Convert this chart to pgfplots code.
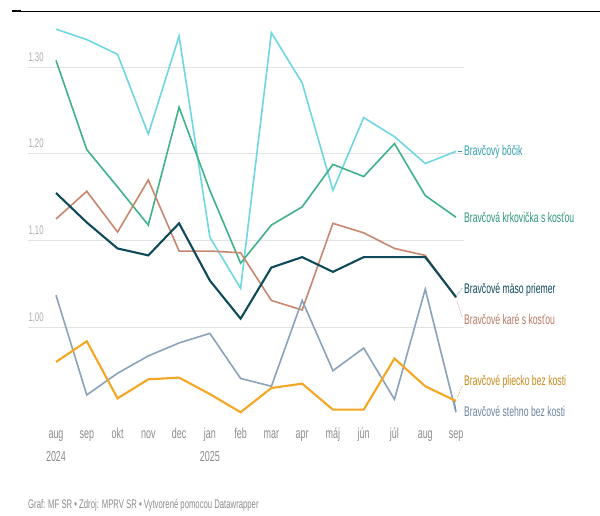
\documentclass[border=0pt]{standalone}
\usepackage{pgfplots}
\pgfplotsset{compat=1.18}
\usepackage{fontspec}
\setmainfont{Liberation Sans}[FakeStretch=0.62]
\definecolor{bocik}{HTML}{6FD6E3}
\definecolor{bocikL}{HTML}{2E9FB0}
\definecolor{krk}{HTML}{3FB287}
\definecolor{krkL}{HTML}{2E9A72}
\definecolor{prie}{HTML}{0E4A5A}
\definecolor{kare}{HTML}{C8876E}
\definecolor{kareL}{HTML}{B97A62}
\definecolor{plie}{HTML}{F5A623}
\definecolor{plieL}{HTML}{C98A1A}
\definecolor{steh}{HTML}{8AA2BB}
\definecolor{stehL}{HTML}{6D86A0}
\definecolor{tickgray}{HTML}{8C8C8C}
\definecolor{gridgray}{HTML}{E3E3E3}
\begin{document}
\begin{tikzpicture}[x=1bp,y=1bp]
\useasboundingbox (0,0) rectangle (600,516);
\fill[white] (0,0) rectangle (600,516);
\draw[black, line width=0.9bp] (12,505) -- (600,505);
\draw[black, line width=2.2bp] (12,505) -- (21,505);
\begin{axis}[
  at={(28bp,102bp)}, anchor=south west,
  scale only axis, width=436bp, height=390bp,
  xmin=-0.91, xmax=13.26, ymin=0.90, ymax=1.35,
  axis line style={draw=none}, tick style={draw=none}, clip=false,
  ytick={1.0,1.1,1.2,1.3},
  ymajorgrids, grid style={gridgray, line width=1bp},
  xtick={0,...,13},
  xticklabels={aug,sep,okt,nov,dec,jan,feb,mar,apr,máj,jún,júl,aug,sep},
  xticklabel style={font=\fontsize{14.5}{16}\selectfont, text=tickgray, anchor=base, yshift=-25bp},
  yticklabel style={font=\fontsize{12.5}{14}\selectfont, text=tickgray!70, anchor=south west, xshift=-3bp, yshift=1bp},
  /pgf/number format/.cd, fixed, fixed zerofill, precision=2, use comma, assume math mode=true,
]
% Bravcovy bocik
\addplot[bocik, line width=1.6bp] coordinates {
(0,1.344)(1,1.332)(2,1.315)(3,1.223)(4,1.336)(5,1.104)(6,1.045)(7,1.340)(8,1.282)(9,1.158)(10,1.242)(11,1.220)(12,1.189)(13,1.203)};
% Bravcova krkovicka s kostou
\addplot[krk, line width=1.6bp] coordinates {
(0,1.308)(1,1.205)(2,1.162)(3,1.118)(4,1.254)(5,1.158)(6,1.074)(7,1.118)(8,1.139)(9,1.188)(10,1.174)(11,1.212)(12,1.152)(13,1.127)};
% Bravcove kare s kostou
\addplot[kare, line width=1.6bp] coordinates {
(0,1.125)(1,1.157)(2,1.110)(3,1.170)(4,1.088)(5,1.088)(6,1.086)(7,1.031)(8,1.020)(9,1.120)(10,1.109)(11,1.091)(12,1.083)(13,1.034)};
% Bravcove stehno bez kosti
\addplot[steh, line width=1.6bp] coordinates {
(0,1.037)(1,0.922)(2,0.947)(3,0.967)(4,0.982)(5,0.993)(6,0.941)(7,0.932)(8,1.031)(9,0.950)(10,0.976)(11,0.917)(12,1.044)(13,0.902)};
% Bravcove pliecko bez kosti
\addplot[plie, line width=2.1bp] coordinates {
(0,0.960)(1,0.984)(2,0.918)(3,0.940)(4,0.942)(5,0.923)(6,0.902)(7,0.930)(8,0.935)(9,0.905)(10,0.905)(11,0.964)(12,0.932)(13,0.915)};
% Bravcove maso priemer
\addplot[prie, line width=2.1bp] coordinates {
(0,1.155)(1,1.121)(2,1.091)(3,1.083)(4,1.120)(5,1.054)(6,1.010)(7,1.069)(8,1.081)(9,1.064)(10,1.081)(11,1.081)(12,1.081)(13,1.035)};
% year labels
\node[anchor=base, text=tickgray, font=\fontsize{14.5}{16}\selectfont, yshift=-48bp] at (axis cs:0,0.90) {2024};
\node[anchor=base, text=tickgray, font=\fontsize{14.5}{16}\selectfont, yshift=-48bp] at (axis cs:5,0.90) {2025};
% labels
\tikzset{lab/.style={anchor=west, inner sep=0pt, font=\fontsize{14}{16}\selectfont}}
\node[lab, text=bocikL] at (axis cs:13.26,1.202) {Bravčový bôčik};
\node[lab, text=krkL] at (axis cs:13.26,1.127) {Bravčová krkovička s kosťou};
\node[lab, text=prie] at (axis cs:13.26,1.043) {Bravčové mäso priemer};
\node[lab, text=kareL] at (axis cs:13.26,1.009) {Bravčové karé s kosťou};
\node[lab, text=plieL] at (axis cs:13.26,0.937) {Bravčové pliecko bez kosti};
\node[lab, text=stehL] at (axis cs:13.26,0.903) {Bravčové stehno bez kosti};
\draw[bocikL, line width=0.6bp] (axis cs:13.05,1.203) -- (axis cs:13.2,1.203);
\draw[prie, densely dotted, line width=0.6bp] (axis cs:13.03,1.037) -- (axis cs:13.2,1.045);
\draw[kareL, densely dotted, line width=0.6bp] (axis cs:13.03,1.030) -- (axis cs:13.2,1.012);
\draw[plieL, densely dotted, line width=0.6bp] (axis cs:13.03,0.918) -- (axis cs:13.2,0.932);
\draw[stehL, line width=0.6bp] (axis cs:12.95,0.915) -- (axis cs:13.0,0.904);
\end{axis}
\node[anchor=west, inner sep=0pt, text=tickgray, font=\fontsize{12.5}{14}\selectfont] at (28,11) {Graf: MF SR • Zdroj: MPRV SR • Vytvorené pomocou Datawrapper};
\end{tikzpicture}
\end{document}
